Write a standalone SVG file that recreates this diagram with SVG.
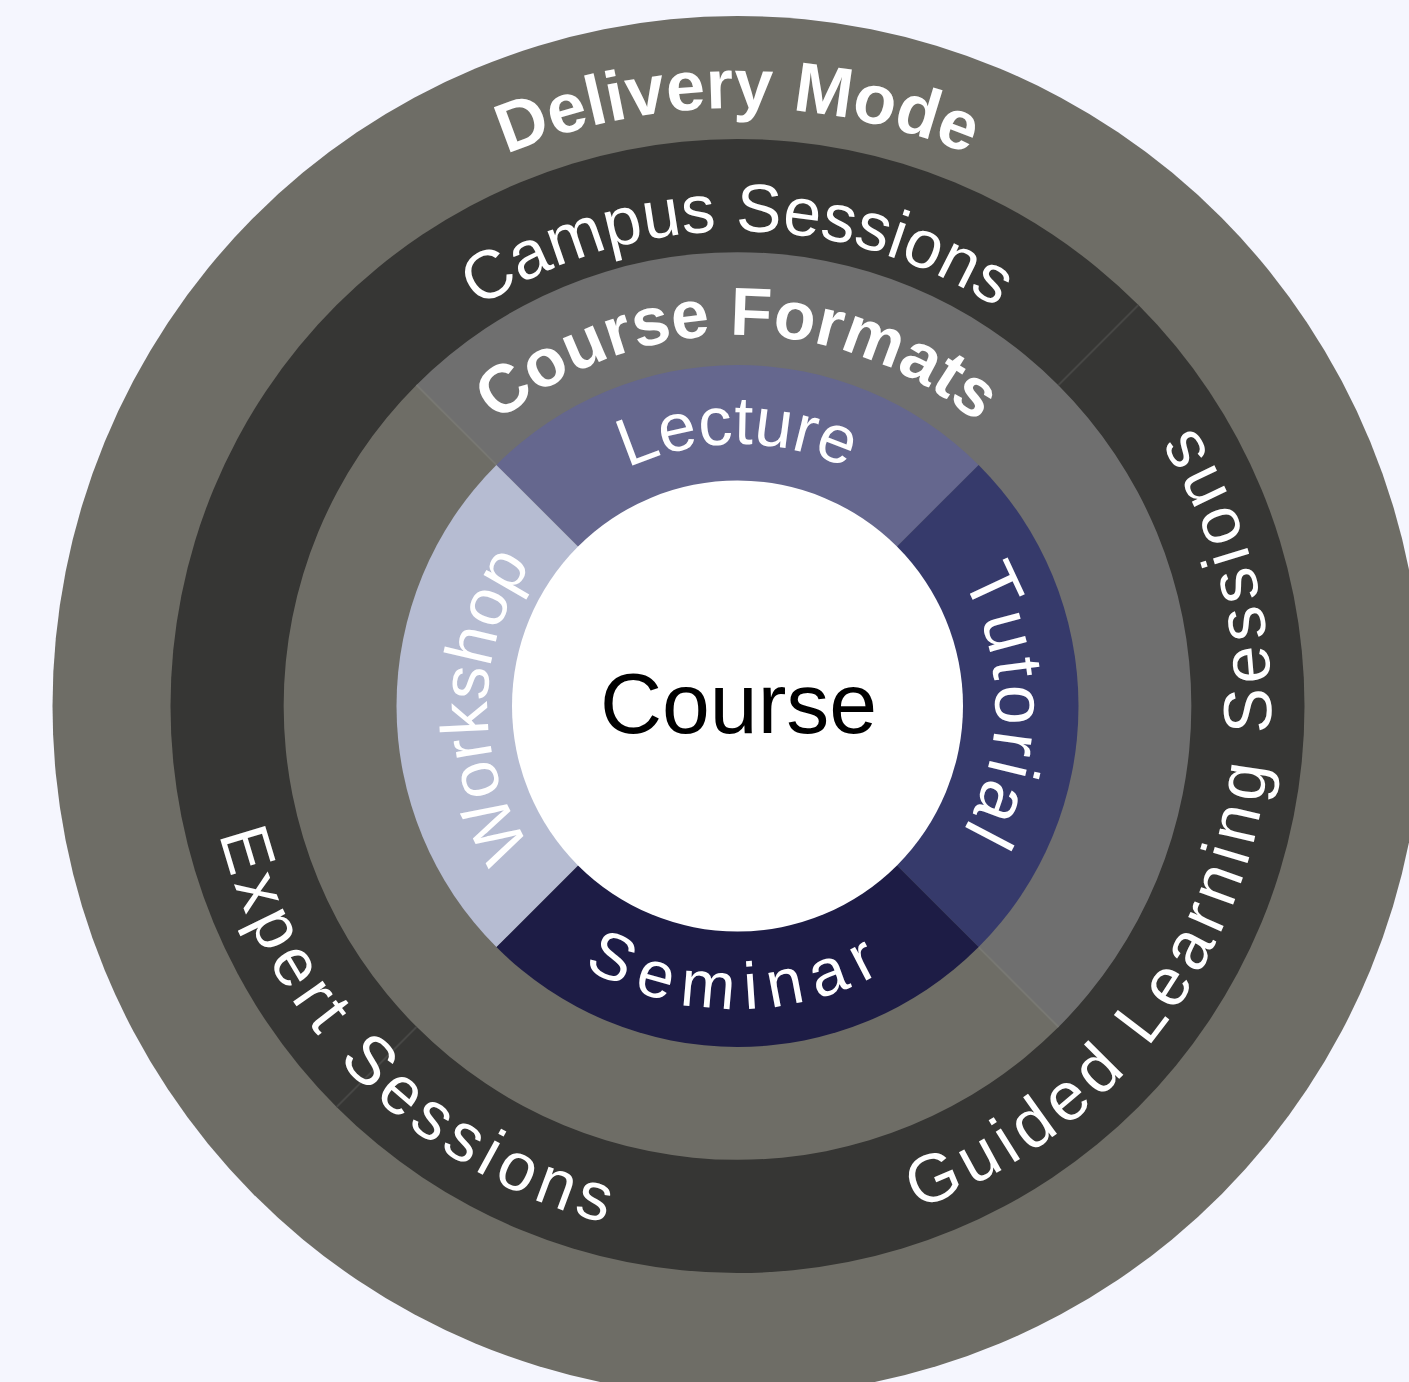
<svg xmlns="http://www.w3.org/2000/svg" width="1409" height="1382" viewBox="0 0 1409 1382">
<style>
.t{font-family:"Liberation Sans",Arial,sans-serif;fill:#ffffff}
.b{font-weight:bold}
.div{stroke-width:2;fill:none}
</style>
<defs>
<path id="pDelivery" d="M 139.5 706 A 598 598 0 0 1 1335.5 706"/>
<path id="pCampus" d="M 262.5 706 A 475 475 0 0 1 1212.5 706"/>
<path id="pFormats" d="M 366.5 706 A 371 371 0 0 1 1108.5 706"/>
<path id="pLecture" d="M 475.5 706 A 262 262 0 0 1 999.5 706"/>
<path id="pTutorial" d="M 737.5 448 A 258 258 0 0 1 737.5 964"/>
<path id="pWorkshop" d="M 737.5 956 A 250 250 0 0 1 737.5 456"/>
<path id="pSeminar" d="M 434.5 706 A 303 303 0 0 0 1040.5 706"/>
<path id="pGuided" d="M 563.32 1211.85 A 535 535 0 0 0 911.68 200.15"/>
<path id="pExpert" d="M 358.5 328.4 A 535 535 0 0 0 1116.5 1083.6"/>
</defs>
<rect width="1409" height="1382" fill="#f5f6fe"/>
<g id="delivery-mode">
<ellipse cx="737.5" cy="706" rx="685" ry="690" fill="#6e6d66"/>
<text class="t b" font-size="70"><textPath href="#pDelivery" startOffset="50%" text-anchor="middle">Delivery Mode</textPath></text>
</g>
<g id="sessions-ring">
<circle cx="737.5" cy="706" r="567" fill="#363634"/>
</g>
<g id="course-formats">
<path d="M 737.5 706 L 416.47 384.97 A 454 454 0 0 1 1058.53 1027.03 Z" fill="#6f6f6f"/>
<path d="M 737.5 706 L 1058.53 1027.03 A 454 454 0 0 1 416.47 384.97 Z" fill="#6e6d66"/>
</g>
<g id="connectors">
<path class="div" stroke="#474745" d="M 1058.53 384.97 L 1138.43 305.07 M 416.47 1027.03 L 336.57 1106.93"/>
<path class="div" stroke="#787873" stroke-width="1.5" d="M 496.38 464.88 L 416.47 384.97 M 978.62 947.12 L 1058.53 1027.03"/>
</g>
<g id="campus-sessions">
<text class="t" font-size="68"><textPath href="#pCampus" startOffset="50%" text-anchor="middle">Campus Sessions</textPath></text>
</g>
<g id="guided-learning-sessions">
<text class="t" font-size="68" letter-spacing="6.6"><textPath href="#pGuided" startOffset="50%" text-anchor="middle">Guided Learning Sessions</textPath></text>
</g>
<g id="expert-sessions">
<text class="t" font-size="68" letter-spacing="6"><textPath href="#pExpert" startOffset="50%" text-anchor="middle">Expert Sessions</textPath></text>
</g>
<g id="course-formats-label">
<text class="t b" font-size="68"><textPath href="#pFormats" startOffset="50%" text-anchor="middle">Course Formats</textPath></text>
</g>
<g id="lecture">
<path d="M 737.5 706 L 496.38 464.88 A 341 341 0 0 1 978.62 464.88 Z" fill="#65678e"/>
<text class="t" font-size="68"><textPath href="#pLecture" startOffset="50%" text-anchor="middle">Lecture</textPath></text>
</g>
<g id="tutorial">
<path d="M 737.5 706 L 978.62 464.88 A 341 341 0 0 1 978.62 947.12 Z" fill="#363a6b"/>
<text class="t" font-size="72" letter-spacing="4"><textPath href="#pTutorial" startOffset="50%" text-anchor="middle">Tutorial</textPath></text>
</g>
<g id="seminar">
<path d="M 737.5 706 L 978.62 947.12 A 341 341 0 0 1 496.38 947.12 Z" fill="#1d1c45"/>
<text class="t" font-size="66" letter-spacing="11"><textPath href="#pSeminar" startOffset="50%" text-anchor="middle">Seminar</textPath></text>
</g>
<g id="workshop">
<path d="M 737.5 706 L 496.38 947.12 A 341 341 0 0 1 496.38 464.88 Z" fill="#b6bcd2"/>
<text class="t" font-size="67"><textPath href="#pWorkshop" startOffset="50%" text-anchor="middle">Workshop</textPath></text>
</g>
<g id="course">
<circle cx="737.5" cy="706" r="225.5" fill="#ffffff"/>
<text x="738.5" y="733" font-family="Liberation Sans, Arial, sans-serif" font-size="86" text-anchor="middle" fill="#000000">Course</text>
</g>
</svg>
